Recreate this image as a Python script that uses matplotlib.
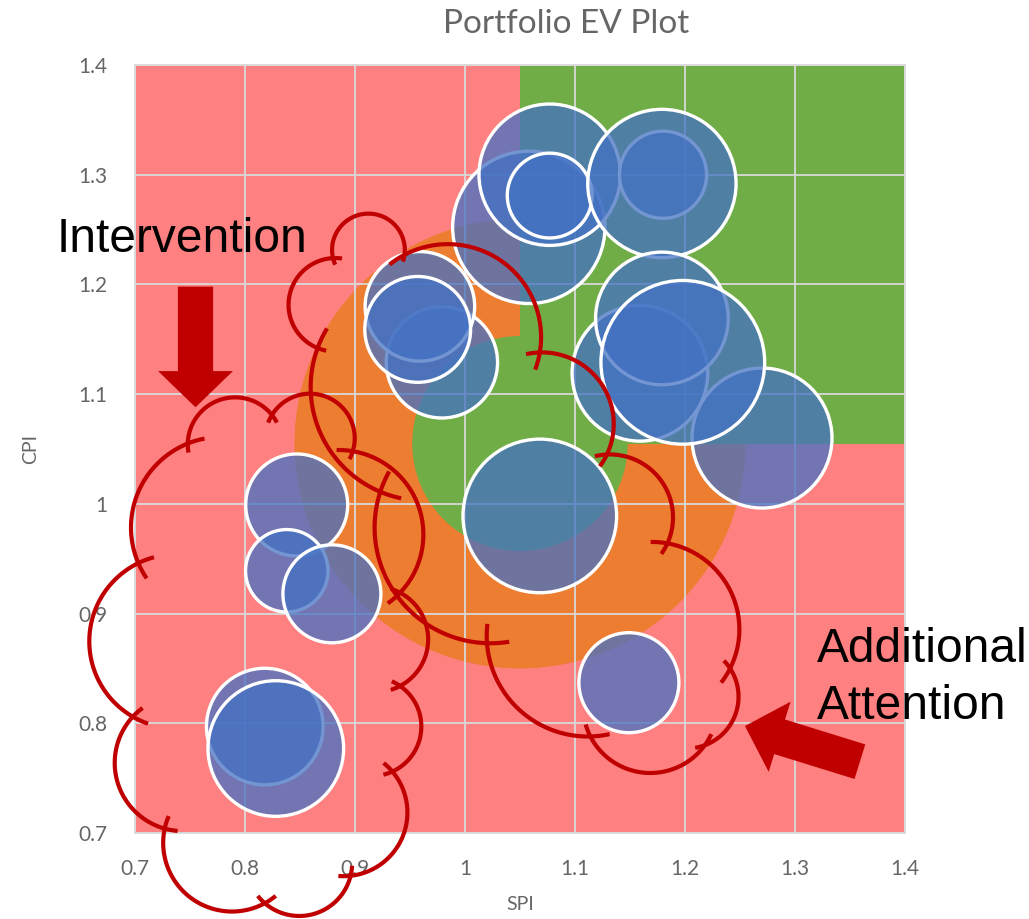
import numpy as np
import matplotlib.pyplot as plt
from matplotlib.patches import Circle, Rectangle, FancyArrow
from matplotlib.colors import to_rgba

# schedule / cost performance per project, bubble size = budget
spi = [0.847, 0.838, 0.879, 0.818, 0.828, 1.149, 0.979, 0.959, 0.957, 1.068,
       1.058, 1.077, 1.077, 1.18, 1.179, 1.27, 1.159, 1.179, 1.198]
cpi = [0.999, 0.939, 0.918, 0.797, 0.777, 0.837, 1.129, 1.18, 1.159, 0.989,
       1.252, 1.30, 1.281, 1.30, 1.292, 1.06, 1.119, 1.169, 1.129]
budget = [26, 17, 24, 34, 46, 25, 31, 30, 28, 59,
          58, 50, 18, 19, 55, 49, 46, 44, 67]

x_ticks = [0.7, 0.8, 0.9, 1.0, 1.1, 1.2, 1.3, 1.4]
x_labels = ['0.7', '0.8', '0.9', '1', '1.1', '1.2', '1.3', '1.4']
y_ticks = [0.7, 0.8, 0.9, 1.0, 1.1, 1.2, 1.3, 1.4]
y_labels = ['0.7', '0.8', '0.9', '1', '1.1', '1.2', '1.3', '1.4']

# performance zones
zone_center = (1.05, 1.055)
watch_radius = 0.205
good_radius = 0.098

# cloud outlines: cusp points (clockwise) and bulge of each lobe
cloud_left = [(0.748, 1.055), (0.8245, 1.081), (0.898, 1.048), (0.941, 0.919),
              (0.941, 0.834), (0.934, 0.756), (0.896, 0.661), (0.818, 0.636),
              (0.727, 0.704), (0.698, 0.806), (0.703, 0.946)]
bulge_left = [0.35, 0.44, 0.30, 0.30, 0.29, 0.30, 0.28, 0.32, 0.28, 0.30, 0.21]
cloud_right = [(0.923, 1.011), (0.866, 1.142), (0.880, 1.224), (0.945, 1.227),
               (1.068, 1.138), (1.129, 1.045), (1.184, 0.964), (1.241, 0.850),
               (1.218, 0.780), (1.114, 0.788), (1.020, 0.873)]
bulge_right = [0.20, 0.40, 0.60, 0.31, 0.28, 0.28, 0.25, 0.24, 0.28, 0.20, 0.25]

PINK = '#FF8080'
ORANGE = '#ED7D31'
GREEN = '#70AD47'
BLUE = '#4472C4'
RED = '#C00000'
GREY = '#666666'

plt.rcParams['font.family'] = ['Lato', 'DejaVu Sans']

fig = plt.figure(figsize=(10.29, 9.19), dpi=100)
W, H = 1029, 919
ax = fig.add_axes([135 / W, 86 / H, 770 / W, 768 / H])
ax.set_xlim(0.7, 1.4)
ax.set_ylim(0.7, 1.4)
ax.set_facecolor(PINK)

ax.add_patch(Circle(zone_center, watch_radius, color=ORANGE, lw=0, zorder=0.1))
ax.add_patch(Rectangle(zone_center, 1.4 - zone_center[0], 1.4 - zone_center[1],
                       color=GREEN, lw=0, zorder=0.2))
ax.add_patch(Circle(zone_center, good_radius, color=GREEN, lw=0, zorder=0.3))

ax.set_axisbelow(True)
ax.grid(True, color='#D9D9D9', lw=1.3)
ax.set_xticks(x_ticks, x_labels)
ax.set_yticks(y_ticks, y_labels)
ax.tick_params(length=0, labelsize=15, labelcolor=GREY)
ax.tick_params(axis='x', pad=19)
ax.tick_params(axis='y', pad=20)
for sp in ax.spines.values():
    sp.set_color('#D9D9D9')
    sp.set_linewidth(1.3)

# bubble radius in pixels = 10 * sqrt(budget)
sizes = [(2 * 10 * np.sqrt(b) * 72 / 100) ** 2 for b in budget]
ax.scatter(spi, cpi, s=sizes, facecolors=[to_rgba(BLUE, 0.75)],
           edgecolors='white', linewidths=2.4, zorder=2)


def lobe(p0, p1, k, ext=np.radians(11)):
    p0, p1 = np.asarray(p0), np.asarray(p1)
    d = p1 - p0
    c = np.hypot(*d)
    n = np.array([-d[1], d[0]]) / c
    theta = 4 * np.arctan(2 * k)
    r = c / (2 * np.sin(theta / 2))
    ctr = (p0 + p1) / 2 + n * (k * c - r)
    a0 = np.arctan2(p0[1] - ctr[1], p0[0] - ctr[0])
    a = np.linspace(a0 + ext, a0 - theta - ext, 80)
    return ctr[0] + r * np.cos(a), ctr[1] + r * np.sin(a)


for pts, bulges in [(cloud_left, bulge_left), (cloud_right, bulge_right)]:
    for i, k in enumerate(bulges):
        xs, ys = lobe(pts[i], pts[(i + 1) % len(pts)], k)
        ax.plot(xs, ys, color=RED, lw=3, solid_capstyle='butt',
                clip_on=False, zorder=3)

ax.add_patch(FancyArrow(0.755, 1.198, 0, -0.110, width=0.032, head_width=0.068,
                        head_length=0.033, length_includes_head=True,
                        color=RED, lw=0, zorder=4, clip_on=False))
ax.add_patch(FancyArrow(1.359, 0.765, -0.1045, 0.0325, width=0.033,
                        head_width=0.067, head_length=0.033,
                        length_includes_head=True, color=RED, lw=0, zorder=4,
                        clip_on=False))

ax.set_xlabel('SPI', fontsize=14, color=GREY, labelpad=12)
ax.set_ylabel('CPI', fontsize=14, color=GREY, labelpad=28)
fig.text(566 / W, 1 - 24 / H, 'Portfolio EV Plot', ha='center', va='center',
         fontsize=24, color=GREY)

note = dict(fontsize=34.5, color='black', family='Liberation Sans',
            ha='left', va='baseline')
fig.text(57 / W, 1 - 252 / H, 'Intervention', **note)
fig.text(817 / W, 1 - 662 / H, 'Additional', **note)
fig.text(817 / W, 1 - 719 / H, 'Attention', **note)

fig.savefig('out.png', dpi=100)
